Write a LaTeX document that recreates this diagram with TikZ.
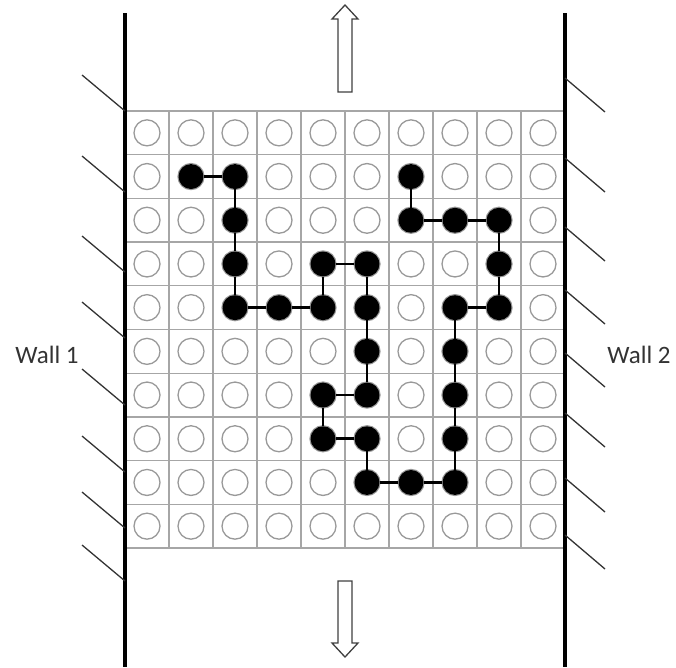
\documentclass[tikz,border=0pt]{standalone}
\usepackage{fontspec}
\setmainfont{Carlito}
\begin{document}
\begin{tikzpicture}[x=1pt,y=-1pt,
  gridline/.style={draw=black!35,line width=1.3pt},
  gcirc/.style={circle,draw=black!40,line width=1.3pt,minimum size=26pt,inner sep=0pt},
  bead/.style={circle,fill=black,minimum size=25pt,inner sep=0pt},
  bond/.style={draw=black,line width=2.6pt},
  wall/.style={draw=black,line width=4pt},
  hatch/.style={draw=black!80,line width=1.3pt},
  blockarrow/.style={draw=black!75,line width=1.3pt,fill=white},
  lbl/.style={font=\fontsize{25}{30}\selectfont,text=black!80,inner sep=0pt}]
\useasboundingbox (0,0) rectangle (676,667);
% grid lines
\foreach \i in {0,...,10} {
  \draw[gridline] (125+44*\i,111) -- (125+44*\i,548);
  \draw[gridline] (125,111+43.7*\i) -- (565,111+43.7*\i);
}
% empty lattice sites
\foreach \c in {0,...,9} {
  \foreach \r in {0,...,9} {
    \node[gcirc] (g-\c-\r) at (147+44*\c,132.85+43.7*\r) {};
  }
}
% walls
\draw[wall] (125,13) -- (125,667);
\draw[wall] (565,13) -- (565,667);
% hatches
\foreach \y in {111,192,272,338,405,472,528,581} {
  \draw[hatch] (82,\y-36) -- (125,\y);
}
\foreach \y in {78,158,227,290,353,413,478,535} {
  \draw[hatch] (565,\y) -- (605,\y+34);
}
% polymer beads
\foreach \c/\r in {1/1,2/1,2/2,2/3,2/4,3/4,4/4,4/3,5/3,5/4,5/5,5/6,4/6,4/7,5/7,5/8,6/8,7/8,7/7,7/6,7/5,7/4,8/4,8/3,8/2,7/2,6/2,6/1} {
  \node[bead] (b-\c-\r) at (147+44*\c,132.85+43.7*\r) {};
}
\draw[bond] (b-1-1) -- (b-2-1) -- (b-2-2) -- (b-2-3) -- (b-2-4) -- (b-3-4) -- (b-4-4) -- (b-4-3) -- (b-5-3) -- (b-5-4) -- (b-5-5) -- (b-5-6) -- (b-4-6) -- (b-4-7) -- (b-5-7) -- (b-5-8) -- (b-6-8) -- (b-7-8) -- (b-7-7) -- (b-7-6) -- (b-7-5) -- (b-7-4) -- (b-8-4) -- (b-8-3) -- (b-8-2) -- (b-7-2) -- (b-6-2) -- (b-6-1);
% block arrows
\draw[blockarrow] (338,92) -- (338,19) -- (332,19) -- (345,5) -- (358,19) -- (352,19) -- (352,92) -- cycle;
\draw[blockarrow] (338,581) -- (338,643) -- (332,643) -- (345,657) -- (358,643) -- (352,643) -- (352,581) -- cycle;
% labels
\node[lbl] (w1) at (47,355) {Wall 1};
\node[lbl] (w2) at (639,355) {Wall 2};
\end{tikzpicture}
\end{document}
